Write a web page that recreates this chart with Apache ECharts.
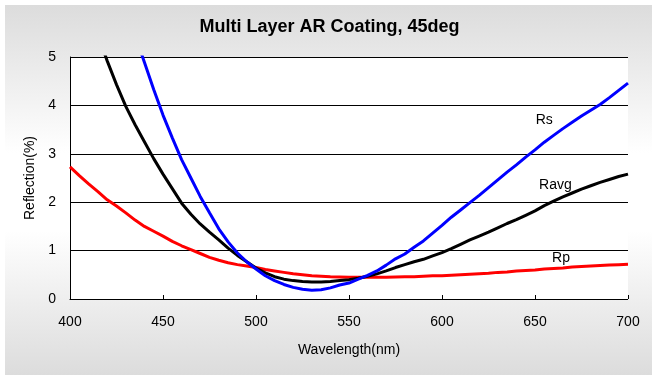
<!DOCTYPE html>
<html>
<head>
<meta charset="utf-8">
<script src="https://cdn.jsdelivr.net/npm/echarts@6/dist/echarts.min.js"></script>
<style>
html,body{margin:0;padding:0;background:#fff;}
#c{width:659px;height:381px;}
</style>
</head>
<body>
<div id="c"></div>
<script>
const title = 'Multi Layer AR Coating, 45deg';
const xName = 'Wavelength(nm)';
const yName = 'Reflection(%)';

const rpWl = [400,405,410,415,420,425,430,435,440,445,450,455,460,465,470,475,480,485,490,495,500,505,510,515,520,525,530,535,540,545,550,555,560,565,570,575,580,585,590,595,600,605,610,615,620,625,630,635,640,645,650,655,660,665,670,675,680,685,690,695,700];
const rpVal = [2.73,2.55,2.38,2.22,2.05,1.92,1.78,1.63,1.50,1.40,1.30,1.19,1.10,1.02,0.94,0.86,0.80,0.75,0.71,0.68,0.65,0.61,0.58,0.55,0.52,0.50,0.48,0.47,0.46,0.455,0.45,0.45,0.45,0.45,0.45,0.455,0.46,0.46,0.47,0.48,0.48,0.49,0.50,0.51,0.52,0.53,0.55,0.56,0.58,0.59,0.60,0.62,0.63,0.64,0.66,0.67,0.68,0.69,0.70,0.71,0.72];

const ravgWl = [415,420,425,430,435,440,445,450,455,460,465,470,475,480,485,490,495,500,505,510,515,520,525,530,535,540,545,550,555,560,565,570,575,580,585,590,595,600,605,610,615,620,625,630,635,640,645,650,655,660,665,670,675,680,685,690,695,700];
const ravgVal = [5.45,4.92,4.43,3.98,3.60,3.25,2.90,2.58,2.28,1.98,1.75,1.55,1.38,1.22,1.05,0.90,0.77,0.64,0.54,0.46,0.41,0.38,0.36,0.35,0.35,0.36,0.38,0.40,0.43,0.47,0.52,0.58,0.65,0.71,0.77,0.82,0.89,0.96,1.04,1.13,1.22,1.30,1.38,1.47,1.56,1.64,1.73,1.82,1.93,2.02,2.11,2.19,2.27,2.34,2.41,2.47,2.53,2.58];

const rsWl = [435,440,445,450,455,460,465,470,475,480,485,490,495,500,505,510,515,520,525,530,535,540,545,550,555,560,565,570,575,580,585,590,595,600,605,610,615,620,625,630,635,640,645,650,655,660,665,670,675,680,685,690,695,700];
const rsVal = [5.45,4.89,4.33,3.80,3.33,2.88,2.50,2.12,1.78,1.45,1.18,0.95,0.77,0.62,0.48,0.38,0.30,0.24,0.20,0.18,0.19,0.23,0.29,0.33,0.41,0.49,0.58,0.70,0.83,0.93,1.07,1.2,1.36,1.52,1.69,1.84,1.99,2.14,2.30,2.46,2.62,2.77,2.93,3.08,3.24,3.38,3.52,3.65,3.78,3.90,4.02,4.16,4.31,4.46];

const seriesNames = ['Rs','Ravg','Rp'];
const labelPos = [[655,3.70],[661,2.36],[664,0.85]];

function pairs(w,v){return w.map((x,i)=>[x,v[i]]);}

const font = 'Liberation Sans, Arial, sans-serif';
const chart = echarts.init(document.getElementById('c'));

function lineSeries(name, data, color, lp){
  return {
    name, type:'line', data, symbol:'none', clip:true,
    lineStyle:{color, width:3}, z:3,
    markPoint:{
      symbol:'circle', symbolSize:0, silent:true,
      data:[{coord:lp}],
      label:{show:true, formatter:name, color:'#000', fontFamily:font, fontSize:14, position:'inside'}
    }
  };
}

chart.setOption({
  animation:false,
  backgroundColor:'#fff',
  graphic:[{
    type:'rect', z:-10, silent:true,
    shape:{x:5,y:5,width:647,height:370},
    style:{fill:new echarts.graphic.LinearGradient(0,0,0,1,[
      {offset:0,color:'#dcdcdc'},{offset:0.40,color:'#ffffff'},{offset:0.61,color:'#ffffff'},{offset:1,color:'#dcdcdc'}
    ])}
  }],
  title:{text:title, left:'center', top:13, textStyle:{fontFamily:font, fontWeight:'bold', fontSize:18, color:'#000'}},
  grid:{left:70, right:31, top:57, bottom:82, show:true, backgroundColor:'#fff', borderWidth:0},
  xAxis:{
    type:'value', min:400, max:700, interval:50,
    name:xName, nameLocation:'middle', nameGap:44,
    nameTextStyle:{fontFamily:font, fontSize:14, color:'#000'},
    axisLine:{show:true, lineStyle:{color:'#000', type:'dashed', width:1}},
    axisTick:{show:true, inside:true, length:4, lineStyle:{color:'#000'}},
    axisLabel:{fontFamily:font, fontSize:14, color:'#000', margin:16},
    splitLine:{show:false}
  },
  yAxis:{
    type:'value', min:0, max:5, interval:1,
    name:yName, nameLocation:'middle', nameGap:30,
    nameTextStyle:{fontFamily:font, fontSize:14, color:'#000'},
    axisLine:{show:true, lineStyle:{color:'#000', width:1}},
    axisTick:{show:false},
    axisLabel:{fontFamily:font, fontSize:14, color:'#000', margin:14},
    splitLine:{show:true, lineStyle:{color:'#000', width:1}}
  },
  series:[
    lineSeries(seriesNames[2], pairs(rpWl,rpVal), '#ff0000', labelPos[2]),
    lineSeries(seriesNames[1], pairs(ravgWl,ravgVal), '#000000', labelPos[1]),
    lineSeries(seriesNames[0], pairs(rsWl,rsVal), '#0000ff', labelPos[0])
  ]
});
</script>
</body>
</html>
